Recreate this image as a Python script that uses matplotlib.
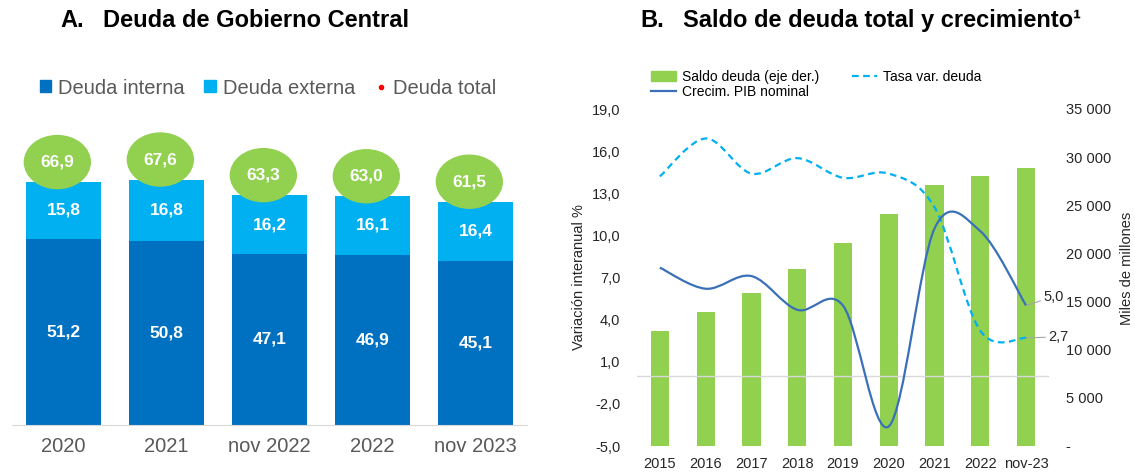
import numpy as np
import matplotlib
matplotlib.use("Agg")
import matplotlib.pyplot as plt
from matplotlib.patches import Ellipse, Patch
from matplotlib.lines import Line2D
from matplotlib.path import Path
from matplotlib.patches import PathPatch
from matplotlib.ticker import FuncFormatter, MultipleLocator

plt.rcParams["font.family"] = ["Liberation Sans", "DejaVu Sans"]

# --- Panel A data: deuda de Gobierno Central (% PIB)
CATS_A = ["2020", "2021", "nov 2022", "2022", "nov 2023"]
INTERNA = [51.2, 50.8, 47.1, 46.9, 45.1]
EXTERNA = [15.8, 16.8, 16.2, 16.1, 16.4]
TOTAL = [66.9, 67.6, 63.3, 63.0, 61.5]

# --- Panel B data
CATS_B = ["2015", "2016", "2017", "2018", "2019", "2020", "2021", "2022", "nov-23"]
SALDO = [11900, 13900, 15900, 18400, 21050, 24100, 27100, 28050, 28850]   # miles de millones
TASA_VAR = [14.2, 16.9, 14.4, 15.5, 14.1, 14.4, 12.0, 3.2, 2.7]            # %
PIB_NOM = [7.7, 6.2, 7.1, 4.7, 5.0, -3.6, 10.5, 10.3, 5.0]                 # %

C_INT = "#0070C0"
C_EXT = "#00B0F0"
C_GREEN = "#92D050"
C_LINE = "#3A70B8"
C_GRAY = "#595959"
C_TXT = "#262626"

W, H = 1135, 472


def fx(px):
    return px / W


def fy(py):
    return 1 - py / H


def fmt1(v):
    return f"{v:.1f}".replace(".", ",")


def smooth_path(xs, ys):
    # Excel-style smoothed line: cubic Bezier through each point
    pts = np.column_stack([xs, ys]).astype(float)
    ext = np.vstack([pts[0], pts, pts[-1]])
    verts, codes = [pts[0]], [Path.MOVETO]
    for i in range(len(pts) - 1):
        p0, p1, p2, p3 = ext[i], ext[i + 1], ext[i + 2], ext[i + 3]
        verts += [p1 + (p2 - p0) / 6, p2 - (p3 - p1) / 6, p2]
        codes += [Path.CURVE4] * 3
    return Path(verts, codes)


fig = plt.figure(figsize=(W / 100, H / 100), dpi=100)

# ---------------- Panel A ----------------
axa = fig.add_axes([fx(12), fy(425), fx(515), 325 / H])
xa = np.arange(len(CATS_A))
axa.bar(xa, INTERNA, width=0.73, color=C_INT, zorder=2)
axa.bar(xa, EXTERNA, width=0.73, bottom=INTERNA, color=C_EXT, zorder=2)
for i in xa:
    axa.text(i, INTERNA[i] / 2, fmt1(INTERNA[i]), ha="center", va="center",
             color="white", fontsize=12.5, fontweight="bold", zorder=3)
    axa.text(i, INTERNA[i] + EXTERNA[i] / 2, fmt1(EXTERNA[i]), ha="center", va="center",
             color="white", fontsize=12.5, fontweight="bold", zorder=3)
    cx, cy = i - 0.06, TOTAL[i] + 5.5
    axa.add_patch(Ellipse((cx, cy), 0.64, 14.6, color=C_GREEN, zorder=4))
    axa.text(cx, cy, fmt1(TOTAL[i]), ha="center", va="center",
             color="white", fontsize=12.5, fontweight="bold", zorder=5)
axa.set_xlim(-0.5, len(CATS_A) - 0.5)
axa.set_ylim(0, 89.5)
axa.set_xticks(xa, CATS_A)
axa.tick_params(axis="x", length=0, pad=9, labelsize=14.5, labelcolor=C_GRAY)
axa.set_yticks([])
for s in ["top", "left", "right"]:
    axa.spines[s].set_visible(False)
axa.spines["bottom"].set_color("#D9D9D9")
hA = [Patch(color=C_INT), Patch(color=C_EXT),
      Line2D([], [], marker="o", ls="", color="#FF0000", markersize=3)]
leg = fig.legend(hA, ["Deuda interna", "Deuda externa", "Deuda total"], ncol=3,
                 loc="center", bbox_to_anchor=(fx(268), fy(88)), frameon=False,
                 fontsize=14.5, handlelength=0.55, handleheight=0.55, handletextpad=0.35,
                 columnspacing=1.0)
for t in leg.get_texts():
    t.set_color(C_GRAY)

fig.text(fx(60), fy(27), "A.", fontsize=17, fontweight="bold", va="baseline")
fig.text(fx(103), fy(27), "Deuda de Gobierno Central", fontsize=17, fontweight="bold",
         va="baseline")

# ---------------- Panel B ----------------
axb = fig.add_axes([fx(637), fy(446), fx(412), 337 / H])
xb = np.arange(len(CATS_B))
axb.bar(xb, SALDO, width=0.4, color=C_GREEN)
axl = axb.twinx()

axb.set_ylim(0, 35000)
axb.set_xlim(-0.5, len(CATS_B) - 0.5)
axb.yaxis.tick_right()
axb.yaxis.set_major_locator(MultipleLocator(5000))
axb.yaxis.set_major_formatter(FuncFormatter(
    lambda v, p: "-" if v == 0 else f"{v:,.0f}".replace(",", " ")))
axb.set_xticks(xb, CATS_B)
axb.tick_params(axis="both", length=0, labelsize=10.5, labelcolor=C_TXT)
axb.tick_params(axis="y", pad=12)
axb.tick_params(axis="x", pad=8)
for s in axb.spines.values():
    s.set_visible(False)
fig.text(fx(1127), fy(268), "Miles de millones", rotation=90, fontsize=10.5, color=C_TXT,
         ha="center", va="center")

axl.yaxis.tick_left()
axl.yaxis.set_label_position("left")
axl.set_ylim(-5, 19)
axl.set_yticks(np.arange(-5, 20, 3))
axl.yaxis.set_major_formatter(FuncFormatter(lambda v, p: fmt1(v)))
axl.tick_params(axis="y", length=0, pad=12, labelsize=10.5, labelcolor=C_TXT)
axl.set_ylabel("Variación interanual %", fontsize=10.5, color=C_TXT, labelpad=4)
for s in axl.spines.values():
    s.set_visible(False)
axl.axhline(0, color="#D9D9D9", lw=1, zorder=1)

axl.add_patch(PathPatch(smooth_path(xb, TASA_VAR), fill=False, ec=C_EXT, lw=1.6,
                        ls=(0, (3, 2)), zorder=3))
axl.add_patch(PathPatch(smooth_path(xb, PIB_NOM), fill=False, ec=C_LINE, lw=1.6, zorder=3))

axl.annotate(fmt1(PIB_NOM[-1]), xy=(xb[-1], PIB_NOM[-1]), xytext=(17, 9),
             textcoords="offset pixels", fontsize=10.5, color=C_TXT, va="center", ha="left",
             arrowprops=dict(arrowstyle="-", color="#A6A6A6", lw=0.8, shrinkA=0, shrinkB=0))
axl.annotate(fmt1(TASA_VAR[-1]), xy=(xb[-1], TASA_VAR[-1]), xytext=(22, 1),
             textcoords="offset pixels", fontsize=10.5, color=C_TXT, va="center", ha="left",
             arrowprops=dict(arrowstyle="-", color="#A6A6A6", lw=0.8, shrinkA=0, shrinkB=0))

hB = [Patch(color=C_GREEN), Line2D([], [], color=C_LINE, lw=1.6),
      Line2D([], [], color=C_EXT, lw=1.6, ls=(0, (3, 2)))]
legb = fig.legend(hB, ["Saldo deuda (eje der.)", "Crecim. PIB nominal", "Tasa var. deuda"],
                  ncol=2, loc="upper left", bbox_to_anchor=(fx(644), fy(63)), frameon=False,
                  fontsize=10, handlelength=1.8, handleheight=0.7, handletextpad=0.4,
                  columnspacing=2.4, labelspacing=0.05, borderpad=0)

fig.text(fx(640), fy(27), "B.", fontsize=17, fontweight="bold", va="baseline")
fig.text(fx(683), fy(27), "Saldo de deuda total y crecimiento¹", fontsize=17,
         fontweight="bold", va="baseline")

fig.savefig("out.png", dpi=100)
